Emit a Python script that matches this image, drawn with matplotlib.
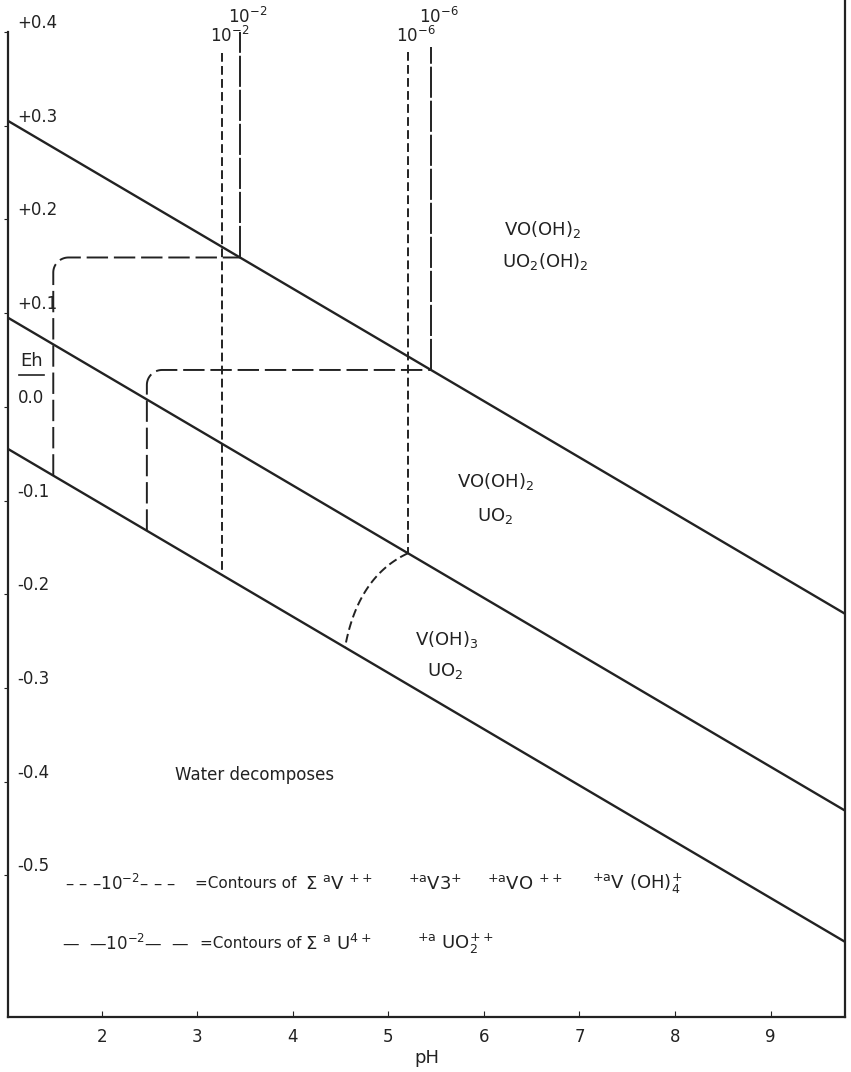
import numpy as np
import matplotlib.pyplot as plt

plt.rcParams['font.family'] = ['DejaVu Sans']
plt.rcParams['mathtext.default'] = 'regular'

# axis ranges
ph_range = (1.016, 9.78)
eh_range = (-0.651, 0.434)

x_ticks = [2, 3, 4, 5, 6, 7, 8, 9]
y_ticks = [0.4, 0.3, 0.2, 0.1, 0.0, -0.1, -0.2, -0.3, -0.4, -0.5]
y_tick_labels = ['+0.4', '+0.3', '+0.2', '+0.1', '0.0', '-0.1', '-0.2', '-0.3', '-0.4', '-0.5']

# stability boundaries: Eh = intercept + slope * pH
slope = -0.060
intercepts = [0.366, 0.156, 0.016]   # upper, middle, lower

# vanadium contours (short dashes), down to the lower / middle line
v_ph = [3.257, 5.204]
v_top = [0.377, 0.378]
v_stop_line = [2, 1]
v_labels = ['10$^{-2}$', '10$^{-6}$']
v_arc_ctrl = (4.68, -0.181)   # 10^-6 curve from middle to lower line
v_arc_end_ph = 4.545

# uranium contours (long dashes)
u_ph = [3.445, 5.445]
u_top = [0.400, 0.384]
u_left_ph = [1.49, 2.47]
u_labels = ['10$^{-2}$', '10$^{-6}$']

# field labels
field_text = [
    ('VO(OH)$_2$', 6.61, 0.189), ('UO$_2$(OH)$_2$', 6.64, 0.155),
    ('VO(OH)$_2$', 6.12, -0.080), ('UO$_2$', 6.12, -0.117),
    ('V(OH)$_3$', 5.61, -0.248), ('UO$_2$', 5.59, -0.282),
]

# legend rows: (text, pH position, size)
legend_v = [
    ('– – –10$^{-2}$– – –', 1.61, 12), ('=Contours of', 2.97, 11),
    (r'$\Sigma\ {}^{a}V\ ^{++}$', 4.13, 13), ('${}^{+a}V3^{+}$', 5.20, 13),
    ('${}^{+a}VO\ ^{++}$', 6.03, 13), ('${}^{+a}V\ (OH)_4^{+}$', 7.13, 13),
]
legend_u = [
    ('—  —10$^{-2}$—  —', 1.58, 12), ('=Contours of', 3.03, 11),
    (r'$\Sigma\ {}^{a}\ U^{4+}$', 4.13, 13), ('${}^{+a}\ UO_2^{++}$', 5.30, 13),
]


def eh_on(i, ph):
    return intercepts[i] + slope * np.asarray(ph)


fig = plt.figure(figsize=(8.51, 10.72), dpi=100)
ax = fig.add_axes([8 / 851, 55 / 1072, 837 / 851, 1017 / 1072])
ax.set_xlim(*ph_range)
ax.set_ylim(*eh_range)

# boundary lines
ph_line = np.array(ph_range)
for i in range(3):
    ax.plot(ph_line, eh_on(i, ph_line), color='#222222', lw=1.7, solid_capstyle='butt')

# vanadium contours
for ph, top, stop in zip(v_ph, v_top, v_stop_line):
    ax.plot([ph, ph], [top, eh_on(stop, ph)], color='#222222', lw=1.4, dashes=(4.5, 2.2))
p0 = np.array([v_ph[1], eh_on(1, v_ph[1])])
p1 = np.array(v_arc_ctrl)
p2 = np.array([v_arc_end_ph, eh_on(2, v_arc_end_ph)])
t = np.linspace(0, 1, 60)[:, None]
curve = (1 - t) ** 2 * p0 + 2 * (1 - t) * t * p1 + t ** 2 * p2
ax.plot(curve[:, 0], curve[:, 1], color='#222222', lw=1.4, dashes=(4.5, 2.2))

# uranium contours with rounded corner
rx, ry = 0.16, 0.016
for ph, top, left in zip(u_ph, u_top, u_left_ph):
    h = float(eh_on(0, ph))
    ang = np.linspace(np.pi, np.pi / 2, 20)
    xs = np.concatenate([[left], left + rx + rx * np.cos(ang), [ph]])
    ys = np.concatenate([[eh_on(2, left)], h - ry + ry * np.sin(ang), [h]])
    ax.plot(xs, ys, color='#222222', lw=1.4, dashes=(11, 3))
    ax.plot([ph, ph], [h, top], color='#222222', lw=1.4, dashes=(16, 1.5))

# contour labels
for ph, lab in zip(v_ph, v_labels):
    ax.text(ph - 0.13, 0.385, lab, fontsize=12, ha='left', va='bottom', color='#222222')
for ph, lab in zip(u_ph, u_labels):
    ax.text(ph - 0.13, 0.405, lab, fontsize=12, ha='left', va='bottom', color='#222222')

for txt, x, y in field_text:
    ax.text(x, y, txt, fontsize=13, ha='center', va='center', color='#222222')

ax.text(3.6, -0.393, 'Water decomposes', fontsize=12, ha='center', va='center', color='#222222')

# Eh label with underline
ax.text(1.26, 0.049, 'Eh', fontsize=13, ha='center', va='center', color='#222222')
ax.plot([1.13, 1.39], [0.034, 0.034], color='#222222', lw=1.2)

# legend rows
for txt, x, size in legend_v:
    ax.text(x, -0.509, txt, fontsize=size, ha='left', va='center', color='#222222')
for txt, x, size in legend_u:
    ax.text(x, -0.573, txt, fontsize=size, ha='left', va='center', color='#222222')

# axes styling
ax.spines['top'].set_visible(False)
ax.spines['left'].set_bounds(eh_range[0], 0.4)
for s in ['left', 'right', 'bottom']:
    ax.spines[s].set_linewidth(1.6)
    ax.spines[s].set_color('#222222')

ax.set_xticks(x_ticks)
ax.set_xticklabels([str(v) for v in x_ticks], fontsize=12)
ax.tick_params(axis='x', direction='in', length=4, pad=8, colors='#222222')

ax.set_yticks(y_ticks)
ax.set_yticklabels(y_tick_labels, fontsize=12)
ax.tick_params(axis='y', direction='out', length=3, pad=-10, colors='#222222')
for lab in ax.get_yticklabels():
    lab.set_horizontalalignment('left')
    lab.set_verticalalignment('bottom')

ax.set_xlabel('pH', fontsize=13, labelpad=2, color='#222222')

fig.savefig('out.png', dpi=100)
